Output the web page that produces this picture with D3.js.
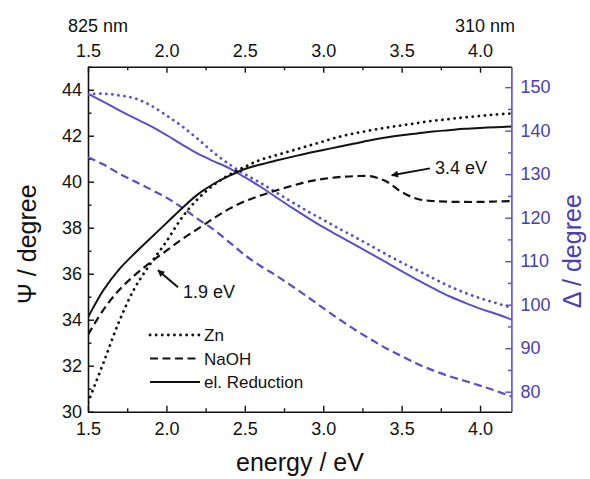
<!DOCTYPE html>
<html><head><meta charset="utf-8">
<script src="https://cdn.jsdelivr.net/npm/d3@7"></script>
<style>
body{margin:0;background:#fff;}
svg text{font-family:"Liberation Sans",Arial,Helvetica,sans-serif;}
</style></head>
<body>
<svg id="c" width="590" height="479"></svg>
<script>
// ---- data ----
const energy = [1.5,1.6,1.7,1.8,1.9,2.0,2.1,2.2,2.3,2.4,2.5,2.6,2.7,2.8,2.9,3.0,3.1,3.2,3.3,3.4,3.5,3.6,3.7,3.8,3.9,4.0,4.1,4.2];
// Psi (left axis)
const psiZn   = [30.4,32.15,33.95,35.4,36.45,37.4,38.45,39.25,39.85,40.3,40.65,40.95,41.15,41.35,41.55,41.75,41.95,42.1,42.23,42.35,42.45,42.55,42.65,42.72,42.8,42.86,42.92,42.97];
const psiNaOH = [33.35,34.45,35.3,35.95,36.5,37.0,37.5,37.95,38.4,38.82,39.15,39.4,39.62,39.82,40.0,40.12,40.2,40.24,40.24,40.02,39.55,39.25,39.16,39.13,39.12,39.12,39.14,39.16];
const psiRed  = [34.1,35.3,36.2,36.9,37.55,38.2,38.85,39.45,39.9,40.25,40.55,40.75,40.92,41.08,41.24,41.38,41.52,41.66,41.8,41.92,42.02,42.1,42.18,42.24,42.3,42.34,42.37,42.4];
// Delta (right axis)
const delZn   = [148.4,148.5,148.1,147.4,145.8,143.5,141.0,138.1,135.0,132.3,130.0,128.0,125.8,123.6,121.5,119.5,117.5,115.6,113.6,111.6,109.7,107.9,106.1,104.3,102.8,101.5,100.4,99.3];
const delNaOH = [133.9,132.2,130.1,128.3,126.5,124.6,122.3,119.7,117.3,114.4,111.4,108.9,106.7,104.3,101.8,99.2,96.7,94.3,92.1,90.0,88.2,86.4,84.9,83.6,82.5,81.4,80.2,78.9];
const delRed  = [148.5,146.6,144.65,142.8,141.05,139.0,136.8,134.7,133.0,131.4,129.3,127.1,124.7,122.3,120.0,117.8,115.8,113.8,111.8,109.8,107.7,105.7,103.8,102.0,100.5,99.1,97.9,96.6];
// ticks
const xMajor = [1.5,2.0,2.5,3.0,3.5,4.0];
const xMinor = [1.75,2.25,2.75,3.25,3.75];
const yLMajor = [30,32,34,36,38,40,42,44];
const yLMinor = [31,33,35,37,39,41,43,45];
const yRMajor = [80,90,100,110,120,130,140,150];
const yRMinor = [85,95,105,115,125,135,145];
const legendLabels = ["Zn","NaOH","el. Reduction"];

// ---- layout ----
const L=88, R=511.4, T=66.7, B=411.7;
const BLUE="#5a4fc6", BLUETXT="#4b40b0";
const x = d3.scaleLinear().domain([1.5,4.2]).range([L,R]);
const yL = d3.scaleLinear().domain([30,45]).range([B,T]);
const yR = d3.scaleLinear().domain([75.4,154.7]).range([B,T]);
const svg = d3.select("#c");

function styleAxis(g,color,fs){
  g.selectAll("path").attr("stroke",color).attr("stroke-width",1.6);
  g.selectAll("line").attr("stroke",color).attr("stroke-width",1.4);
  g.selectAll("text").attr("fill",color).attr("font-size",fs).attr("font-family",'"Liberation Sans",Arial,sans-serif');
}
const fmt1 = d3.format(".1f");
// bottom
let g=svg.append("g").attr("transform",`translate(0,${B})`)
  .call(d3.axisBottom(x).tickValues(xMajor).tickFormat(fmt1).tickSize(-6).tickSizeOuter(0).tickPadding(10.5));
styleAxis(g,"#111",18);
g=svg.append("g").attr("transform",`translate(0,${B})`)
  .call(d3.axisBottom(x).tickValues(xMinor).tickFormat("").tickSize(-3.5).tickSizeOuter(0));
styleAxis(g,"#111",18); g.select("path").remove();
// top
g=svg.append("g").attr("transform",`translate(0,${T})`)
  .call(d3.axisTop(x).tickValues(xMajor).tickFormat(fmt1).tickSize(-6).tickSizeOuter(0).tickPadding(9.5));
styleAxis(g,"#111",18);
g=svg.append("g").attr("transform",`translate(0,${T})`)
  .call(d3.axisTop(x).tickValues(xMinor).tickFormat("").tickSize(-3.5).tickSizeOuter(0));
styleAxis(g,"#111",18); g.select("path").remove();
// left
g=svg.append("g").attr("transform",`translate(${L},0)`)
  .call(d3.axisLeft(yL).tickValues(yLMajor).tickSize(-6).tickSizeOuter(0).tickPadding(6));
styleAxis(g,"#111",18);
g=svg.append("g").attr("transform",`translate(${L},0)`)
  .call(d3.axisLeft(yL).tickValues(yLMinor).tickFormat("").tickSize(-3.5).tickSizeOuter(0));
styleAxis(g,"#111",18); g.select("path").remove();
// right
g=svg.append("g").attr("transform",`translate(${R},0)`)
  .call(d3.axisRight(yR).tickValues(yRMajor).tickSize(-6).tickSizeOuter(0).tickPadding(9));
styleAxis(g,BLUE,18); g.selectAll("text").attr("fill",BLUETXT);
g=svg.append("g").attr("transform",`translate(${R},0)`)
  .call(d3.axisRight(yR).tickValues(yRMinor).tickFormat("").tickSize(-3.5).tickSizeOuter(0));
styleAxis(g,BLUE,18); g.select("path").remove();

// wavelength labels
svg.append("text").attr("x",x(1.5)+10).attr("y",32).attr("text-anchor","middle").attr("font-size",18).attr("fill","#111").text("825 nm");
svg.append("text").attr("x",x(4.0)+5).attr("y",32).attr("text-anchor","middle").attr("font-size",18).attr("fill","#111").text("310 nm");

// axis titles
svg.append("text").attr("x",300).attr("y",471).attr("text-anchor","middle").attr("font-size",25).attr("fill","#111").text("energy / eV");
svg.append("text").attr("transform",`translate(36,${(T+B)/2+5}) rotate(-90)`).attr("text-anchor","middle").attr("font-size",25).attr("fill","#111").text("Ψ / degree");
svg.append("text").attr("transform",`translate(581,${(T+B)/2+12}) rotate(-90)`).attr("text-anchor","middle").attr("font-size",25).attr("fill",BLUETXT).text("Δ / degree");

// curves
svg.append("clipPath").attr("id","pc").append("rect").attr("x",L).attr("y",T).attr("width",R-L).attr("height",B-T);
const plot = svg.append("g").attr("clip-path","url(#pc)");
const lineL = d3.line().x((d,i)=>x(energy[i])).y(d=>yL(d)).curve(d3.curveCatmullRom.alpha(0.5));
const lineR = d3.line().x((d,i)=>x(energy[i])).y(d=>yR(d)).curve(d3.curveCatmullRom.alpha(0.5));
const DOT="0.1,6", DASH="8,4.5";
function draw(gen,data,color,dash,w){
  const p=plot.append("path").attr("d",gen(data)).attr("fill","none").attr("stroke",color).attr("stroke-width",w);
  if(dash===DOT){p.attr("stroke-dasharray",dash).attr("stroke-linecap","round");}
  else if(dash){p.attr("stroke-dasharray",dash);}
}
draw(lineR,delNaOH,BLUE,DASH,2.2);
draw(lineR,delZn,BLUE,DOT,2.8);
draw(lineR,delRed,BLUE,null,2);
draw(lineL,psiNaOH,"#111",DASH,2.2);
draw(lineL,psiZn,"#111",DOT,2.8);
draw(lineL,psiRed,"#111",null,2);

// annotations
const defs=svg.append("defs");
defs.append("marker").attr("id","ah").attr("viewBox","0 0 10 10").attr("refX",9).attr("refY",5)
  .attr("markerWidth",9).attr("markerHeight",7).attr("markerUnits","userSpaceOnUse").attr("orient","auto")
  .append("path").attr("d","M0,0L10,5L0,10Z").attr("fill","#111");
const ann=[{tail:[2.074,35.41],head:[1.946,36.15],txt:[2.106,34.93],label:"1.9 eV"},
           {tail:[3.681,40.58],head:[3.437,40.28],txt:[3.713,40.32],label:"3.4 eV"}];
ann.forEach(a=>{
  svg.append("line").attr("x1",x(a.tail[0])).attr("y1",yL(a.tail[1])).attr("x2",x(a.head[0])).attr("y2",yL(a.head[1]))
    .attr("stroke","#111").attr("stroke-width",2).attr("marker-end","url(#ah)");
  svg.append("text").attr("x",x(a.txt[0])).attr("y",yL(a.txt[1])).attr("font-size",18).attr("fill","#111").text(a.label);
});

// legend
const legDash=[DOT,DASH,null];
legendLabels.forEach((lab,i)=>{
  const yy=335+i*23.5;
  const ln=svg.append("line").attr("x1",150).attr("x2",200).attr("y1",yy).attr("y2",yy).attr("stroke","#111").attr("stroke-width",legDash[i]===DOT?2.8:2);
  if(legDash[i]===DOT) ln.attr("stroke-dasharray",DOT).attr("stroke-linecap","round");
  else if(legDash[i]) ln.attr("stroke-dasharray",DASH);
  svg.append("text").attr("x",204).attr("y",yy).attr("dy","0.36em").attr("font-size",17).attr("fill","#111").text(lab);
});
</script>
</body></html>
